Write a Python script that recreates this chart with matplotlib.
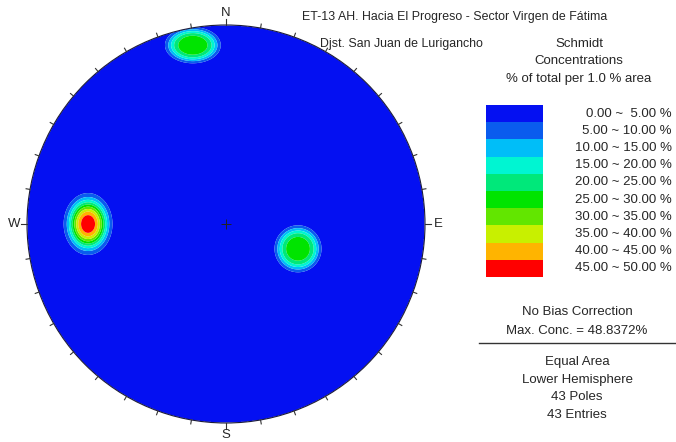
import numpy as np
import matplotlib
matplotlib.use("Agg")
import matplotlib.pyplot as plt
from matplotlib.patches import Circle
from matplotlib.lines import Line2D
from matplotlib.transforms import blended_transform_factory

plt.rcParams['font.family'] = ['Liberation Sans', 'DejaVu Sans']

# Pole clusters (trend / plunge in degrees) and their peak concentrations (%)
cluster_trend = [270.0, 349.5, 109.0]
cluster_plunge = [31.3, 9.5, 58.6]
cluster_peak = [48.8372, 28.5, 28.0]
# spread of each concentration patch on the net (fraction of net radius) and profile shape
cluster_spread_x = [0.090, 0.122, 0.103]
cluster_spread_y = [0.114, 0.079, 0.103]
cluster_shape = [2.66, 4.0, 4.0]

levels = [0, 5, 10, 15, 20, 25, 30, 35, 40, 45, 50]
level_colors = ["#0410F2", "#0A5CEE", "#00BEF8", "#00F5D2", "#00E87A",
                "#00E400", "#62E600", "#C8F000", "#FFB400", "#FF0000"]

n_poles = 43
n_entries = 43
max_conc = max(cluster_peak)

title = "ET-13 AH. Hacia El Progreso - Sector Virgen de Fátima"
subtitle = "Djst. San Juan de Lurigancho"
cardinals = ["N", "E", "S", "W"]

W, H = 676, 442
fig = plt.figure(figsize=(W / 100, H / 100), dpi=100)
fig.patch.set_facecolor("white")
txt_color = "#262626"


def fpos(px, py):
    return px / W, 1 - py / H


# ---- stereonet axes ----
cx, cy, R = 226, 224, 199
lim = 1.08
side = 2 * lim * R
ax = fig.add_axes([(cx - lim * R) / W, (H - cy - lim * R) / H, side / W, side / H])
ax.set_xlim(-lim, lim)
ax.set_ylim(-lim, lim)
ax.set_aspect("equal")
ax.axis("off")


def equal_area(trend, plunge):
    r = np.sqrt(2) * np.sin(np.radians(90 - plunge) / 2)
    t = np.radians(trend)
    return r * np.sin(t), r * np.cos(t)


g = np.linspace(-1, 1, 700)
X, Y = np.meshgrid(g, g)
Z = np.zeros_like(X)
for tr, pl, pk, sx, sy, k in zip(cluster_trend, cluster_plunge, cluster_peak,
                                 cluster_spread_x, cluster_spread_y, cluster_shape):
    x0, y0 = equal_area(tr, pl)
    q = ((X - x0) / sx) ** 2 + ((Y - y0) / sy) ** 2
    Z += pk * np.exp(-q ** (k / 2))
Z = np.clip(Z, 0, max_conc)
Z = np.ma.masked_where(X ** 2 + Y ** 2 > 1.0, Z)

cs = ax.contourf(X, Y, Z, levels=levels, colors=level_colors, antialiased=True)
clip = Circle((0, 0), 1.0, transform=ax.transData)
cs.set_clip_path(clip)
ax.add_patch(Circle((0, 0), 1.0, fill=False, lw=0.8, ec="#1a1a3a"))

# ticks every 10 degrees
for az in range(0, 360, 10):
    a = np.radians(az)
    r1 = 1.028 if az % 90 == 0 else 1.02
    ax.add_line(Line2D([np.sin(a), r1 * np.sin(a)], [np.cos(a), r1 * np.cos(a)],
                       lw=0.8, color="#333333"))

for lab, az in zip(cardinals, [0, 90, 180, 270]):
    a = np.radians(az)
    ax.text(1.066 * np.sin(a), 1.062 * np.cos(a), lab, ha="center", va="center",
            fontsize=9.5, color=txt_color, clip_on=False)

ax.plot([0], [0], marker="+", ms=7, mew=0.7, color="#222222")

# ---- header text ----
fig.text(*fpos(454.5, 17), title, ha="center", va="center", fontsize=8.9, color=txt_color)
fig.text(*fpos(401, 44), subtitle, ha="center", va="center", fontsize=8.9, color=txt_color)
for i, s in enumerate(["Schmidt", "Concentrations", "% of total per 1.0 % area"]):
    fig.text(*fpos(579, 44 + 17.5 * i), s, ha="center", va="center", fontsize=9.5, color=txt_color)

# ---- legend swatches ----
lx0, ly0, lw_, lh = 486, 105, 57, 172
lax = fig.add_axes([lx0 / W, 1 - (ly0 + lh) / H, lw_ / W, lh / H])
nlev = len(level_colors)
lax.barh(np.arange(nlev), 1, height=1.0, color=level_colors, align="center")
lax.set_xlim(0, 1)
lax.set_ylim(nlev - 0.5, -0.5)
lax.axis("off")
trans = blended_transform_factory(lax.transAxes, lax.transData)
for i in range(nlev):
    lo, hi = levels[i], levels[i + 1]
    lab = f"{lo:.2f} ~  {hi:.2f} %" if hi < 10 else f"{lo:.2f} ~ {hi:.2f} %"
    lax.text((672 - lx0) / lw_, i, lab, transform=trans, ha="right", va="center",
             fontsize=9.5, color=txt_color, clip_on=False)

# ---- footer text ----
fig.text(*fpos(577, 312), "No Bias Correction", ha="center", va="center", fontsize=9.5, color=txt_color)
fig.text(*fpos(577, 331), f"Max. Conc. = {max_conc:.4f}%", ha="center", va="center",
         fontsize=9.5, color=txt_color)
fig.add_artist(Line2D([479 / W, 676 / W], [1 - 343 / H] * 2, color="#333333", lw=1.0))
for i, s in enumerate(["Equal Area", "Lower Hemisphere", f"{n_poles} Poles", f"{n_entries} Entries"]):
    fig.text(*fpos(577, 362 + 17.5 * i), s, ha="center", va="center", fontsize=9.5, color=txt_color)

fig.savefig("out.png", dpi=100, facecolor="white")
